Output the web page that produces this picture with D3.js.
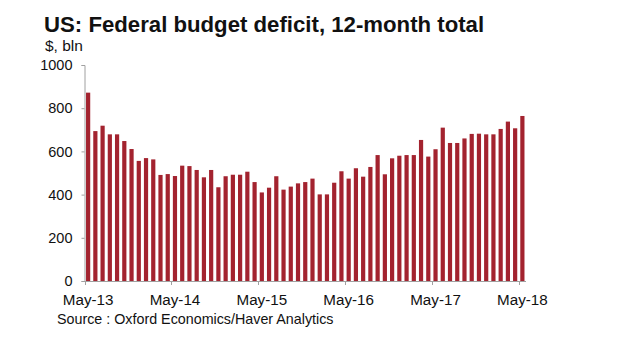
<!DOCTYPE html>
<html><head><meta charset="utf-8">
<script src="https://cdn.jsdelivr.net/npm/d3@7"></script>
<style>body{margin:0;background:#fff}svg{display:block;font-family:"Liberation Sans",Arial,sans-serif}</style>
</head><body>
<script>
const months = [];
const startYear = 2013;
const monthNames = ["Jan","Feb","Mar","Apr","May","Jun","Jul","Aug","Sep","Oct","Nov","Dec"];
for (let i = 0; i < 61; i++) {
  const m = (4 + i) % 12, yr = startYear + Math.floor((4 + i) / 12);
  months.push(monthNames[m] + "-" + String(yr).slice(2));
}
const deficit = [
  872, 694, 719, 679, 679, 648, 611, 556, 569, 563, 491, 495,
  486, 534, 532, 514, 480, 514, 434, 485, 492, 492, 506, 458,
  410, 432, 485, 423, 437, 452, 458, 474, 401, 401, 455, 508,
  474, 522, 483, 528, 583, 494, 568, 580, 583, 583, 653, 576,
  610, 710, 639, 639, 660, 681, 682, 679, 679, 704, 738, 707,
  764
];
const yTicks = [0, 200, 400, 600, 800, 1000];
const xLabels = ["May-13", "May-14", "May-15", "May-16", "May-17", "May-18"];

const W = 640, H = 344;
const mLeft = 84.5, mRight = 526, mTop = 65, mBottom = 281;
const svg = d3.select("body").append("svg").attr("width", W).attr("height", H);

const x = d3.scaleBand().domain(months).range([mLeft, mRight]).paddingInner(0.42).paddingOuter(0.21);
const y = d3.scaleLinear().domain([0, 1000]).range([mBottom, mTop]);

svg.append("text").attr("x", 44).attr("y", 32).attr("font-size", 22.2).attr("font-weight", "bold")
  .attr("fill", "#111").text("US: Federal budget deficit, 12-month total");
svg.append("text").attr("x", 45).attr("y", 51).attr("font-size", 15.5).attr("fill", "#111").text("$, bln");

svg.selectAll("rect.bar").data(deficit).join("rect").attr("class", "bar")
  .attr("x", (d, i) => x(months[i])).attr("width", x.bandwidth())
  .attr("y", d => y(d)).attr("height", d => mBottom - y(d)).attr("fill", "#a3232f");

const yAxis = svg.append("g").attr("transform", `translate(${mLeft},0)`)
  .call(d3.axisLeft(y).tickValues(yTicks).tickFormat(d3.format("d")).tickSize(3).tickPadding(9));
yAxis.selectAll("path,line").attr("stroke", "#a0a0a0");
yAxis.selectAll("text").attr("font-size", 14.5).attr("fill", "#111").attr("font-family", "Liberation Sans,Arial,sans-serif");

const xBase = d3.scaleLinear().domain([0, months.length]).range([mLeft, mRight]);
svg.append("line").attr("x1", mLeft).attr("x2", mRight).attr("y1", mBottom + 0.5).attr("y2", mBottom + 0.5).attr("stroke", "#a0a0a0");
const tickIdx = d3.range(0, months.length + 1, 12);
svg.selectAll("line.xt").data(tickIdx).join("line").attr("class", "xt")
  .attr("x1", d => Math.round(xBase(d)) + 0.5).attr("x2", d => Math.round(xBase(d)) + 0.5)
  .attr("y1", mBottom).attr("y2", mBottom + 4).attr("stroke", "#a0a0a0");
svg.selectAll("text.xl").data(xLabels).join("text").attr("class", "xl")
  .attr("x", (d, i) => x(d) + x.bandwidth() / 2).attr("y", 305)
  .attr("text-anchor", "middle").attr("font-size", 15.2).attr("fill", "#111").text(d => d);

svg.append("text").attr("x", 57).attr("y", 323.5).attr("font-size", 14.3).attr("fill", "#111")
  .text("Source : Oxford Economics/Haver Analytics");
</script>
</body></html>
